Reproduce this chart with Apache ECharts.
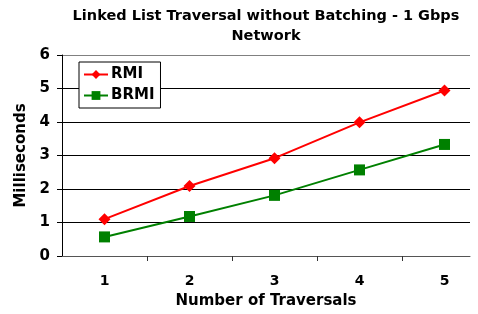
<!DOCTYPE html>
<html>
<head>
<meta charset="utf-8">
<script src="https://cdn.jsdelivr.net/npm/echarts@6/dist/echarts.min.js"></script>
<style>
  html, body { margin: 0; padding: 0; background: #fff; }
  #chart { width: 478px; height: 314px; }
</style>
</head>
<body>
<div id="chart"></div>
<script>
const traversals = [1, 2, 3, 4, 5];
const rmi = [1.1, 2.09, 2.92, 3.99, 4.94];
const brmi = [0.57, 1.18, 1.81, 2.57, 3.33];
const yTicks = [0, 1, 2, 3, 4, 5, 6];

const font = "DejaVu Sans";

const chart = echarts.init(document.getElementById("chart"));

chart.setOption({
  animation: false,
  title: {
    text: "Linked List Traversal without Batching - 1 Gbps\nNetwork",
    left: 261,
    top: 1,
    textAlign: "center",
    textStyle: {
      fontFamily: font,
      fontWeight: "bold",
      fontSize: 14.5,
      lineHeight: 20,
      color: "#000",
    },
  },
  legend: {
    orient: "vertical",
    left: 79,
    top: 62,
    padding: [5, 6, 5, 4],
    itemGap: 6,
    itemWidth: 24,
    itemHeight: 11,
    borderColor: "#000",
    borderWidth: 1,
    backgroundColor: "#fff",
    textStyle: {
      fontFamily: font,
      fontWeight: "bold",
      fontSize: 15,
      color: "#000",
      padding: [0, 0, 0, -2],
    },
    data: ["RMI", "BRMI"],
  },
  grid: {
    left: 62,
    right: 8,
    top: 55,
    bottom: 57,
  },
  xAxis: {
    type: "value",
    min: 0.5,
    max: 5.3,
    name: "Number of Traversals",
    nameLocation: "middle",
    nameGap: 38,
    nameTextStyle: {
      fontFamily: font,
      fontWeight: "bold",
      fontSize: 15,
      color: "#000",
    },
    axisLine: { show: true, lineStyle: { color: "#555", width: 1 } },
    axisTick: {
      show: true,
      length: 5,
      lineStyle: { color: "#333" },
      customValues: [1.5, 2.5, 3.5, 4.5],
    },
    axisLabel: {
      margin: 18,
      fontFamily: font,
      fontWeight: "bold",
      fontSize: 14,
      color: "#000",
      customValues: traversals,
    },
    splitLine: { show: false },
  },
  yAxis: {
    type: "value",
    min: 0,
    max: 6,
    interval: 1,
    name: "Milliseconds",
    nameLocation: "middle",
    nameGap: 33,
    nameTextStyle: {
      fontFamily: font,
      fontWeight: "bold",
      fontSize: 15,
      color: "#000",
    },
    axisLine: { show: true, lineStyle: { color: "#000", width: 1 } },
    axisTick: { show: true, length: 5, lineStyle: { color: "#000" } },
    axisLabel: {
      margin: 12,
      fontFamily: font,
      fontWeight: "bold",
      fontSize: 15,
      color: "#000",
      formatter: (v) => (yTicks.includes(v) ? String(v) : ""),
    },
    splitLine: {
      show: true,
      lineStyle: {
        color: ["#000", "#000", "#000", "#000", "#000", "#000", "#808080"],
        width: 1,
      },
    },
  },
  series: [
    {
      name: "RMI",
      type: "line",
      data: traversals.map((x, i) => [x, rmi[i]]),
      symbol: "diamond",
      symbolSize: 12,
      lineStyle: { color: "#ff0000", width: 2 },
      itemStyle: { color: "#ff0000" },
    },
    {
      name: "BRMI",
      type: "line",
      data: traversals.map((x, i) => [x, brmi[i]]),
      symbol: "rect",
      symbolSize: 11,
      lineStyle: { color: "#008000", width: 2 },
      itemStyle: { color: "#008000" },
    },
  ],
});
</script>
</body>
</html>
